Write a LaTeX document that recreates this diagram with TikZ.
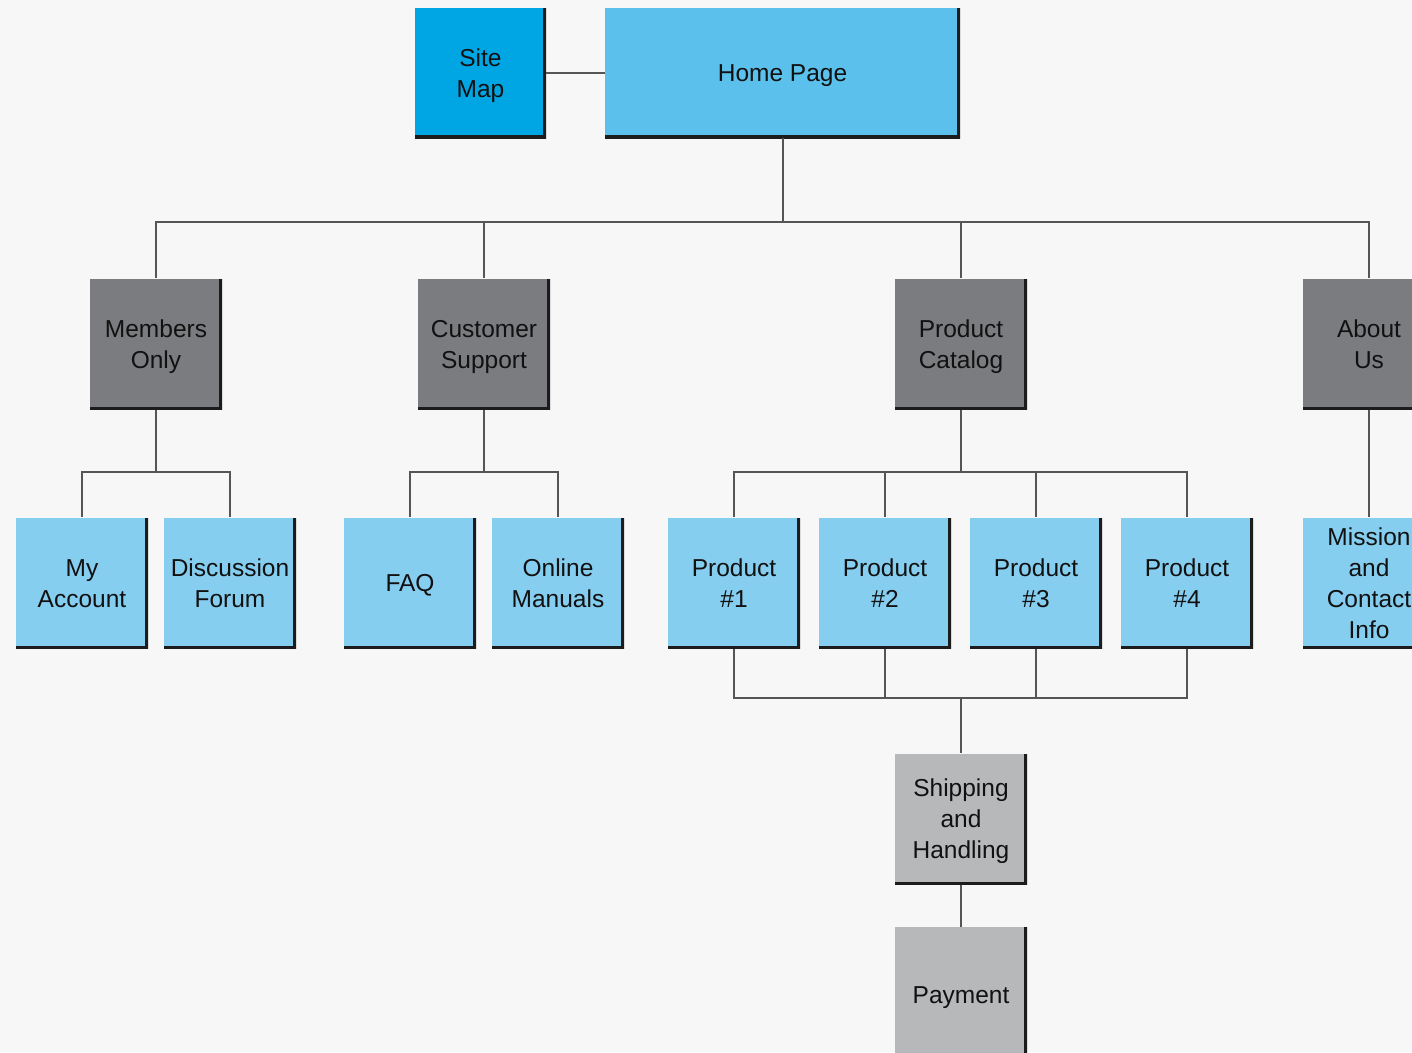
\documentclass[tikz,border=0pt]{standalone}
\usepackage{fontspec}
\setmainfont{Liberation Sans}
\definecolor{bg}{HTML}{F7F7F7}
\definecolor{sitec}{HTML}{00A6E4}
\definecolor{homec}{HTML}{5BC1EC}
\definecolor{leafc}{HTML}{86CEF0}
\definecolor{darkc}{HTML}{7A7C7F}
\definecolor{greyc}{HTML}{B6B8BA}
\definecolor{shadc}{HTML}{1C1C1C}
\definecolor{linec}{HTML}{555555}
\definecolor{textc}{HTML}{111111}
\newcommand{\tstr}{\rule{0pt}{24pt}}
\begin{document}
\begin{tikzpicture}[x=1pt,y=-1pt,
  box/.style={draw=none, minimum width=132pt, minimum height=131pt, inner sep=0pt,
    align=center, text=textc, font=\fontsize{24.5}{31}\selectfont,
    execute at begin node={\tstr},
    execute at end node={\rule[-7pt]{0pt}{7pt}},
    path picture={\draw[shadc, line width=6pt]
      (path picture bounding box.north east) -- (path picture bounding box.south east)
      -- (path picture bounding box.south west);}},
  site/.style={box, fill=sitec, minimum width=131pt, minimum height=130pt},
  home/.style={box, fill=homec, minimum width=355pt, minimum height=130pt},
  leaf/.style={box, fill=leafc},
  sect/.style={box, fill=darkc},
  grey/.style={box, fill=greyc},
  conn/.style={draw=linec, line width=2pt}]
\fill[bg] (0,0) rectangle (1412,1052);
\useasboundingbox (0,0) rectangle (1412,1052);
\clip (0,0) rectangle (1412,1052);

\node[site] (sitemap) at (480.5,73) {\tstr Site\\Map};
\node[home] (home) at (782.5,73) {Home Page};

\node[sect] (members) at (156,344) {\tstr Members\\Only};
\node[sect] (support) at (484,344) {\tstr Customer\\Support};
\node[sect] (catalog) at (961,344) {\tstr Product\\Catalog};
\node[sect] (about) at (1369,344) {\tstr About\\Us};

\node[leaf] (myacc) at (82,583) {\tstr My\\Account};
\node[leaf] (forum) at (230,583) {\tstr Discussion\\Forum};
\node[leaf] (faq) at (410,583) {FAQ};
\node[leaf] (manuals) at (558,583) {\tstr Online\\Manuals};
\node[leaf] (p1) at (734,583) {\tstr Product\\\#1};
\node[leaf] (p2) at (885,583) {\tstr Product\\\#2};
\node[leaf] (p3) at (1036,583) {\tstr Product\\\#3};
\node[leaf] (p4) at (1187,583) {\tstr Product\\\#4};
\node[leaf] (mission) at (1369,583) {\tstr Mission\\and\\Contact\\Info};

\node[grey] (ship) at (961,819) {\tstr Shipping\\and\\Handling};
\node[grey, minimum height=136pt] (pay) at (961,995) {Payment};

\coordinate (b1) at (782.5,222);
\coordinate (b2) at (156,472);
\coordinate (b3) at (484,472);
\coordinate (b4) at (961,472);
\coordinate (b5) at (961,698);

\draw[conn] (sitemap.east) -- (home.west);
\draw[conn] (home.south) -- (b1);
\draw[conn] (b1) -| (members.north);
\draw[conn] (b1) -| (support.north);
\draw[conn] (b1) -| (catalog.north);
\draw[conn] (b1) -| (about.north);

\draw[conn] (members.south) -- (b2);
\draw[conn] (b2) -| (myacc.north);
\draw[conn] (b2) -| (forum.north);

\draw[conn] (support.south) -- (b3);
\draw[conn] (b3) -| (faq.north);
\draw[conn] (b3) -| (manuals.north);

\draw[conn] (catalog.south) -- (b4);
\draw[conn] (b4) -| (p1.north);
\draw[conn] (b4) -| (p2.north);
\draw[conn] (b4) -| (p3.north);
\draw[conn] (b4) -| (p4.north);

\draw[conn] (about.south) -- (mission.north);

\draw[conn] (b5) -| (p1.south);
\draw[conn] (b5) -| (p2.south);
\draw[conn] (b5) -| (p3.south);
\draw[conn] (b5) -| (p4.south);
\draw[conn] (b5) -- (ship.north);
\draw[conn] (ship.south) -- (pay.north);
\end{tikzpicture}
\end{document}
